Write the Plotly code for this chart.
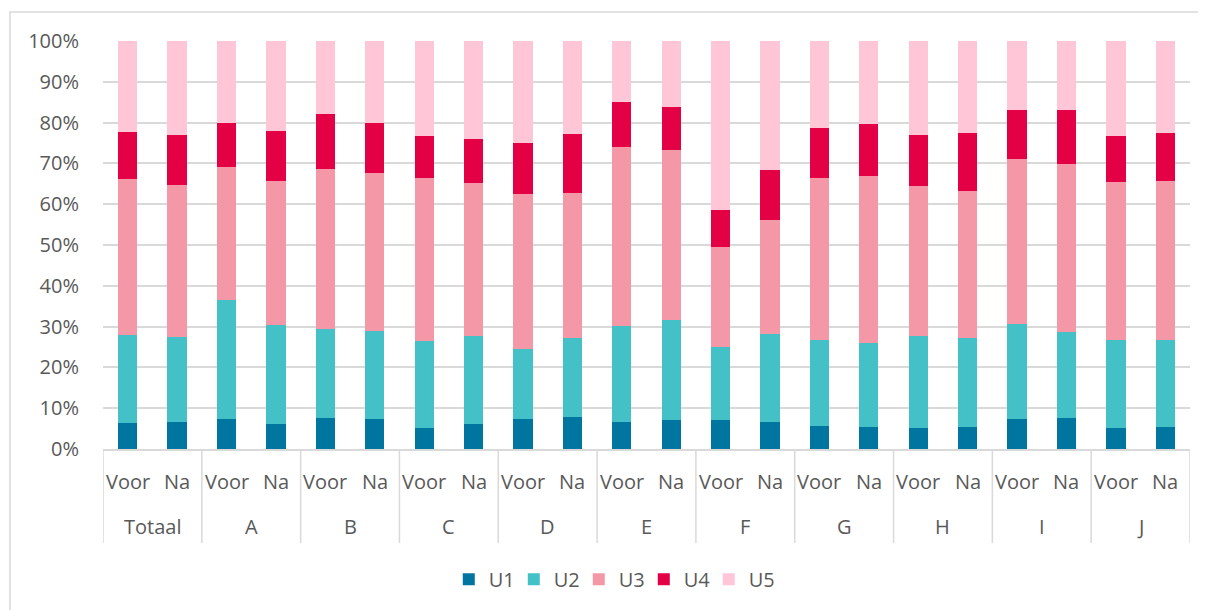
import plotly.graph_objects as go

groups = ['Totaal', 'A', 'B', 'C', 'D', 'E', 'F', 'G', 'H', 'I', 'J']
moments = ['Voor', 'Na']

# percentages per bar, in order Totaal Voor, Totaal Na, A Voor, A Na, ...
u1 = [6.4, 6.5, 7.4, 6.1, 7.7, 7.4, 5.1, 6.1, 7.4, 7.9, 6.7,
      7.2, 7.2, 6.5, 5.7, 5.5, 5.2, 5.5, 7.4, 7.7, 5.1, 5.5]
u2 = [21.5, 20.9, 29.0, 24.2, 21.8, 21.6, 21.4, 21.5, 17.1, 19.4, 23.4,
      24.3, 17.7, 21.8, 21.1, 20.4, 22.4, 21.6, 23.3, 21.1, 21.7, 21.1]
u3 = [38.2, 37.4, 32.8, 35.5, 39.1, 38.7, 39.9, 37.6, 37.9, 35.5, 44.0,
      41.8, 24.5, 27.8, 39.6, 41.1, 36.8, 36.2, 40.5, 41.1, 38.6, 39.2]
u4 = [11.7, 12.1, 10.7, 12.2, 13.4, 12.3, 10.3, 10.7, 12.7, 14.5, 10.9,
      10.5, 9.2, 12.3, 12.2, 12.6, 12.5, 14.2, 12.0, 13.1, 11.4, 11.7]
u5 = [22.2, 23.1, 20.1, 22.0, 18.0, 20.0, 23.3, 24.1, 24.9, 22.7, 15.0,
      16.2, 41.4, 31.6, 21.4, 20.4, 23.1, 22.5, 16.8, 17.0, 23.2, 22.5]

series = {'U1': u1, 'U2': u2, 'U3': u3, 'U4': u4, 'U5': u5}
colors = {'U1': '#00759F', 'U2': '#43C1C6', 'U3': '#F498A8',
          'U4': '#E40044', 'U5': '#FFC6D8'}

cats = [g + ' ' + m for g in groups for m in moments]

fig = go.Figure()
for name, vals in series.items():
    fig.add_trace(go.Bar(
        x=cats,
        y=[v / 100 for v in vals],
        name=name,
        marker_color=colors[name],
        marker_line_width=0,
    ))

gray = '#595959'
line_gray = '#D9D9D9'
# page body adds an 8px offset, so the figure is 8px smaller than the window
fig.update_layout(
    barmode='stack',
    bargap=0.61,
    width=1198, height=602,
    margin=dict(l=95, r=16, t=33, b=161),
    plot_bgcolor='white', paper_bgcolor='white',
    font=dict(family='Open Sans', size=20, color=gray),
    legend=dict(orientation='h', x=0.4676, xanchor='center', y=-0.319, yanchor='middle',
                font=dict(size=20, color=gray), itemwidth=30, traceorder='normal',
                entrywidth=20),
    showlegend=True,
)
fig.update_yaxes(range=[0, 1], dtick=0.1, tickformat='.0%', showgrid=True,
                 gridcolor=line_gray, gridwidth=1.5, zeroline=False,
                 ticks='', ticklabelstandoff=23, automargin=False)
fig.update_xaxes(type='category', range=[-0.5, len(cats) - 0.5], showticklabels=False,
                 showline=True, linecolor=line_gray, linewidth=1.5, ticks='', automargin=False)

# two-level category labels and group dividers, Excel style
for i, g in enumerate(groups):
    for j, m in enumerate(moments):
        fig.add_annotation(x=cats[2 * i + j], xref='x', y=-0.079, yref='paper',
                           text=m, showarrow=False, yanchor='middle',
                           font=dict(size=20, color=gray))
    fig.add_annotation(x=2 * i + 0.5, xref='x', y=-0.191, yref='paper',
                       text=g, showarrow=False, yanchor='middle',
                       font=dict(size=20, color=gray))
for i in range(len(groups) + 1):
    fig.add_shape(type='line', xref='x', yref='paper', x0=2 * i - 0.5, x1=2 * i - 0.5,
                  y0=0, y1=-0.2304, line=dict(color=line_gray, width=1.5))

# chart area border
fig.add_shape(type='rect', xref='paper', yref='paper', x0=-0.0856, x1=1.2, y0=-0.6, y1=1.071,
              line=dict(color=line_gray, width=1.5), fillcolor='rgba(0,0,0,0)', layer='below')

fig.write_html('out.html')
